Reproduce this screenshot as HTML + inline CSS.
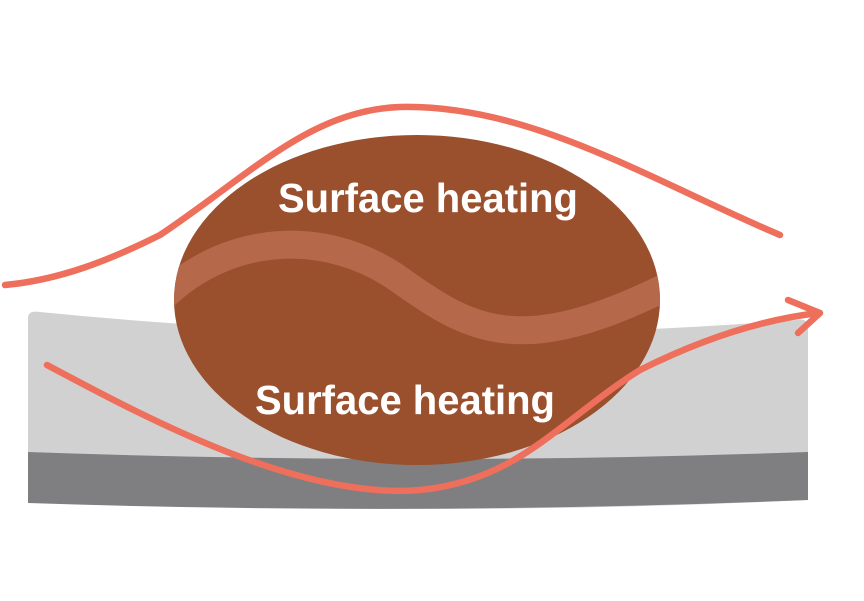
<!DOCTYPE html>
<html><head><meta charset="utf-8"><style>html,body{margin:0;padding:0;background:#fff}svg{display:block}</style></head><body>
<svg width="864" height="601" viewBox="0 0 864 601" xmlns="http://www.w3.org/2000/svg">
<rect width="864" height="601" fill="#fff"/>
<path d="M28 318 Q28 310 40 312 Q418 350 796 320 Q808 318 808 326 L808 500 Q418 518 28 500 Z" fill="#d2d1d2"/>
<path d="M28 452 Q418 466 808 452 L808 500 Q418 516 28 503 Z" fill="#7f7e80"/>
<defs><clipPath id="b"><ellipse cx="417" cy="300" rx="243" ry="165"/></clipPath></defs>
<ellipse cx="417" cy="300" rx="243" ry="165" fill="#9a4f2d"/>
<path clip-path="url(#b)" d="M160 300 C230 230 330 230 400 280 C470 330 520 360 670 285" fill="none" stroke="#b5694a" stroke-width="28"/>
<g fill="none" stroke="#ee6f5b" stroke-width="6.5" stroke-linecap="round" stroke-linejoin="round">
<path d="M5 285 C60 280 110 260 160 235 C250 175 310 110 400 107 C530 104 650 180 780 235"/>
<path d="M47 365 C150 420 300 500 420 490 C520 480 560 420 640 370 C700 340 760 320 818 313"/>
<path d="M788 300 L820 313 L798 333"/>
</g>
<g fill="#fff" font-family="'Liberation Sans',sans-serif" font-weight="bold" font-size="41">
<text x="278" y="212" textLength="300" lengthAdjust="spacingAndGlyphs">Surface heating</text>
<text x="255" y="414" textLength="300" lengthAdjust="spacingAndGlyphs">Surface heating</text>
</g>
</svg>
</body></html>
